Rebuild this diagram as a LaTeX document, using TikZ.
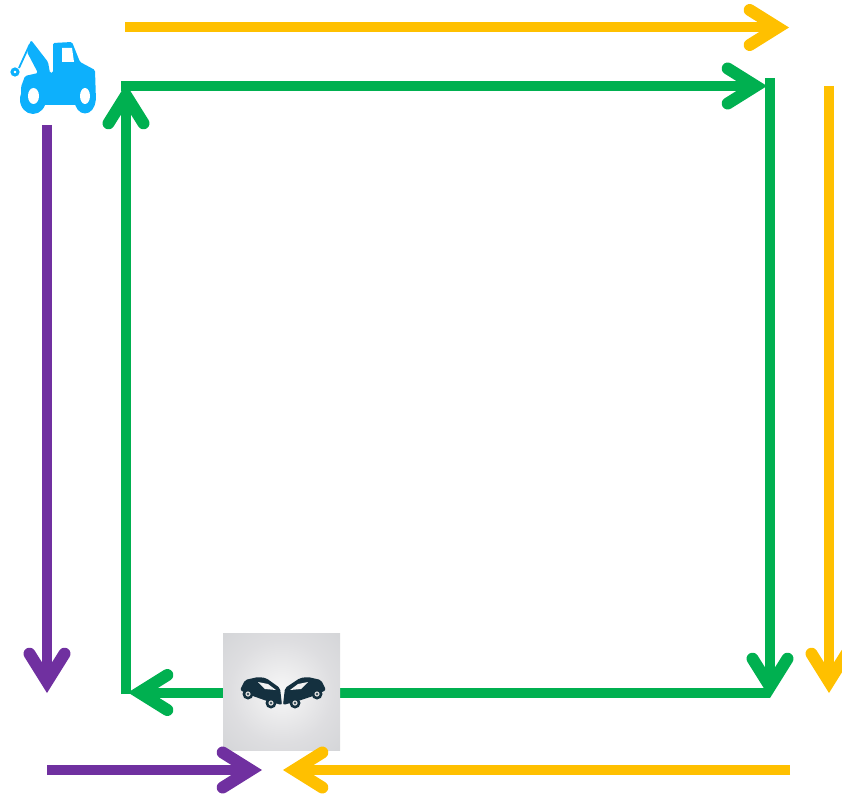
\documentclass[tikz,border=0pt]{standalone}
\usetikzlibrary{arrows.meta,shadings}
\definecolor{flowyellow}{HTML}{FFC000}
\definecolor{flowgreen}{HTML}{00B050}
\definecolor{flowpurple}{HTML}{7030A0}
\definecolor{truckblue}{HTML}{0DB0FC}
\definecolor{cardark}{HTML}{14303F}
\pgfdeclareradialshading{tileglow}{\pgfpointorigin}{rgb(0bp)=(0.97,0.97,0.97); rgb(22bp)=(0.87,0.87,0.88); rgb(50bp)=(0.79,0.80,0.81); rgb(71bp)=(0.77,0.78,0.79)}
\tikzset{
  route/.style={line width=10pt,line cap=butt,-{Straight Barb[length=28pt,width=35pt,line width=12pt,line cap=round,line join=miter]}},
  yellowroute/.style={route,draw=flowyellow},
  greenroute/.style={route,draw=flowgreen},
  purpleroute/.style={route,draw=flowpurple},
  crashtile/.style={inner sep=0pt,minimum size=117pt,shape=rectangle,shade,shading=tileglow},
}
\begin{document}
\begin{tikzpicture}[x=1pt,y=-1pt]
\useasboundingbox (0,0) rectangle (842,794);
% corners and free ends
\coordinate (yt1) at (125,27.5);   \coordinate (yt2) at (789,27.5);
\coordinate (yr1) at (829,86);   \coordinate (yr2) at (829,693);
\coordinate (yb1) at (790,770);  \coordinate (yb2) at (283,770);
\coordinate (ptop) at (47,125);  \coordinate (pdown) at (47,693);
\coordinate (pb1) at (47,770);   \coordinate (pb2) at (262,770);
\coordinate (gtl) at (121,86);   \coordinate (gtr) at (767,86);
\coordinate (grt) at (770,78);   \coordinate (grb) at (770,698);
\coordinate (gbr) at (770,692.5);  \coordinate (gbl) at (128,692.5);
\coordinate (glb) at (126,694);  \coordinate (glt) at (126,84);
% crash tile goes under the bottom arrows but over the green line
\draw[greenroute] (gbr) -- (gbl);
\node[crashtile] (crash) at (281.5,691.5) {};
% yellow
\draw[yellowroute] (yt1) -- (yt2);
\draw[yellowroute] (yr1) -- (yr2);
\draw[yellowroute] (yb1) -- (yb2);
% purple
\draw[purpleroute] (ptop) -- (pdown);
\draw[purpleroute] (pb1) -- (pb2);
% green
\draw[greenroute] (glb) -- (glt);
\draw[greenroute] (gtl) -- (gtr);
\draw[greenroute] (grt) -- (grb);
% crash icon
\begin{scope}
  \fill[cardark,rounded corners=2pt] (240,690) -- (245,680) -- (258,677) -- (266,678) -- (280,688) -- (282,705) -- (267,701) -- (250,695) -- cycle;
  \fill[cardark,rounded corners=2pt] (326,690) -- (321,680) -- (308,677) -- (300,678) -- (285,688) -- (283,705) -- (298,701) -- (316,695) -- cycle;
  \fill[white!90!gray] (258,682) -- (268,684) -- (276,690) -- (265,689) -- cycle;
  \fill[white!90!gray] (308,682) -- (298,684) -- (290,690) -- (301,689) -- cycle;
  \foreach \cx/\cy in {248/694,271/703,317/694,295/703}{
    \fill[cardark] (\cx,\cy) circle[radius=5.5];
    \fill[white!70!gray] (\cx,\cy) circle[radius=2.6];
    \fill[cardark] (\cx,\cy) circle[radius=1.1];
  }
\end{scope}
% tow truck
\begin{scope}
  \draw[truckblue,line width=1.8pt] (30,44) -- (19,68);
  \draw[truckblue,line width=3pt] (15,72) circle[radius=3];
  \fill[truckblue,rounded corners=1.5pt] (31,40) -- (48,62) -- (50,73) -- (53,73) -- (53,43) -- (72,42) -- (80,62) -- (95,70) -- (96,101) -- (92,105) -- (26,105) -- (21,97) -- (21,87) -- (25,76) -- (38,73) -- (27,52) -- cycle;
  \fill[truckblue] (33,99.5) ellipse[x radius=13,y radius=14.5];
  \fill[truckblue] (85,100) ellipse[x radius=10.5,y radius=13.5];
  \fill[white] (33.5,96) ellipse[x radius=5.5,y radius=8];
  \fill[white] (85,96) ellipse[x radius=5,y radius=8];
  \fill[white] (62,48) -- (72,48) -- (74,62) -- (62,62) -- cycle;
\end{scope}
\end{tikzpicture}
\end{document}
